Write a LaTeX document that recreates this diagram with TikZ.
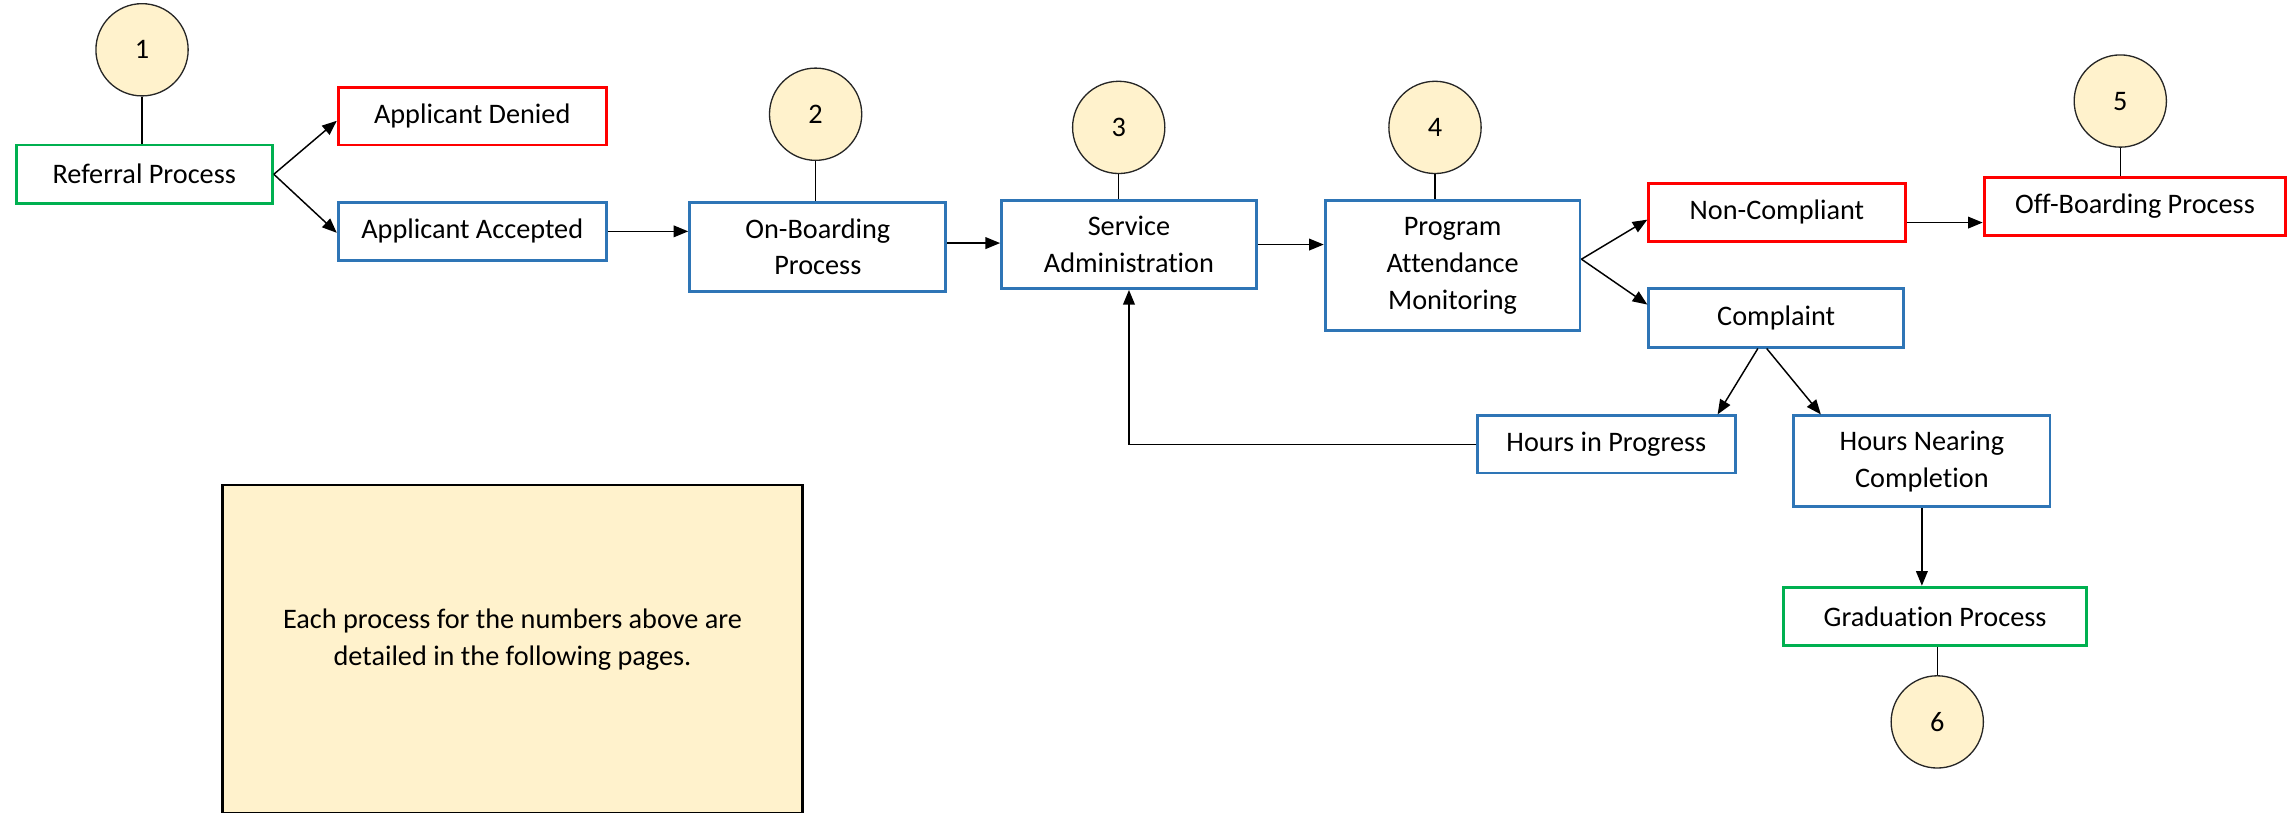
\documentclass[tikz,border=0pt]{standalone}
\usepackage{fontspec}
\setmainfont{Carlito}[Ligatures={NoCommon}]
\usetikzlibrary{positioning,arrows.meta}
\definecolor{stepblue}{HTML}{2E75B6}
\definecolor{stepred}{HTML}{FF0000}
\definecolor{stepgreen}{HTML}{00B050}
\definecolor{notefill}{HTML}{FFF2CC}

\begin{document}
\begin{tikzpicture}[x=1pt,y=-1pt,font=\fontsize{19.3}{25}\selectfont,
  >={Triangle[length=10pt,width=8pt]},
  proc/.style={draw=stepblue,line width=2pt,fill=white,align=center,inner sep=0pt,
    minimum width=175pt,minimum height=40pt},
  endred/.style={proc,draw=stepred},
  endgreen/.style={proc,draw=stepgreen},
  num/.style={circle,draw=black!85,fill=notefill,line width=0.9pt,minimum size=63pt,inner sep=0pt},
  link/.style={line width=1pt},
  flow/.style={->,line width=1pt}]
  \useasboundingbox (0,0) rectangle (1568,555);
  \node[endgreen] (ref) at (98.5,119) {Referral Process};
  \node[endred,minimum width=183pt,minimum height=39pt] (den) at (322.5,79.5) {Applicant Denied};
  \node[proc,minimum width=183pt] (acc) at (322.5,158) {Applicant Accepted};
  \node[proc,minimum height=61pt] (onb) at (558.5,168.5) {On-Boarding\\Process};
  \node[proc,minimum width=174pt,minimum height=60pt] (svc) at (771,167) {Service\\Administration};
  \node[proc,minimum width=174pt,minimum height=89pt] (pam) at (992,181.5) {Program\\Attendance\\Monitoring};
  \node[endred] (nonc) at (1213.5,145) {Non-Compliant};
  \node[proc,minimum width=174pt] (compl) at (1213,217) {Complaint};
  \node[endred,minimum width=206pt] (offb) at (1458,141) {Off-Boarding Process};
  \node[proc,minimum width=176pt,minimum height=39pt] (hip) at (1097,303.5) {Hours in Progress};
  \node[proc,minimum height=62pt] (hnc) at (1312.5,315) {Hours Nearing\\Completion};
  \node[endgreen,minimum width=207pt] (grad) at (1321.5,421) {Graduation Process};
  \node[draw=black,line width=1.6pt,fill=notefill,minimum width=396pt,minimum height=224pt]
    (note) at (350,443) {};
  \node[align=center] (notetext) at ([yshift=6pt]note.center)
    {Each process for the numbers above are\\detailed in the following pages.};

  \node[num] (n1) at (97,34) {1};
  \node[num] (n2) at (557,78) {2};
  \node[num] (n3) at (764,87) {3};
  \node[num] (n4) at (980,87) {4};
  \node[num] (n5) at (1448,69) {5};
  \node[num] (n6) at (1323,493) {6};
  \draw[link] (n1.south) -- (n1.south |- ref.north);
  \draw[link] (n2.south) -- (n2.south |- onb.north);
  \draw[link] (n3.south) -- (n3.south |- svc.north);
  \draw[link] (n4.south) -- (n4.south |- pam.north);
  \draw[link] (n5.south) -- (n5.south |- offb.north);
  \draw[link] (n6.north) -- (n6.north |- grad.south);

  \draw[flow] (ref.east) -- ([yshift=-3pt]den.west);
  \draw[flow] (ref.east) -- ([yshift=-1pt]acc.west);
  \draw[flow] (acc.east) -- (acc.east -| onb.west);
  \draw[flow] ([yshift=2.5pt]onb.east) -- ([yshift=2.5pt]onb.east -| svc.west);
  \draw[flow] (svc.east) -- (svc.east -| pam.west);
  \draw[flow] ([yshift=4.5pt]pam.east) -- ([yshift=-5pt]nonc.west);
  \draw[flow] ([yshift=4.5pt]pam.east) -- ([yshift=9pt]compl.west);
  \draw[flow] ([yshift=-7pt]nonc.east) -- ([yshift=-7pt]nonc.east -| offb.west);
  \draw[flow] ([xshift=-12.5pt]compl.south) -- ([xshift=76pt]hip.north);
  \draw[flow] ([xshift=-6.5pt]compl.south) -- ([xshift=-69pt]hnc.north);
  \draw[flow] (hip.west) -| (svc.south);
  \draw[flow] (hnc.south) -- (hnc.south |- grad.north);
\end{tikzpicture}
\end{document}
